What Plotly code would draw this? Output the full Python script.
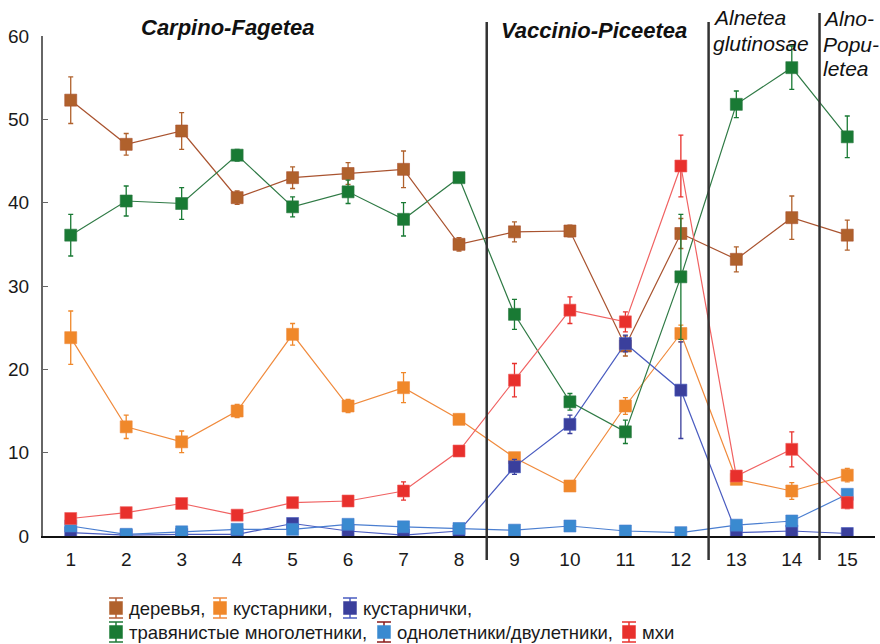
import plotly.graph_objects as go

# Plot numbers 1..15
sites = list(range(1, 16))
tick_text = [str(s) for s in sites]

# Mean share of each life-form group (%) with error half-widths
derevya = [52.3, 47.0, 48.6, 40.6, 43.0, 43.5, 44.0, 35.0, 36.5, 36.6, 22.8, 36.3, 33.2, 38.2, 36.1]
derevya_err = [2.8, 1.3, 2.2, 0.8, 1.3, 1.3, 2.2, 0.8, 1.2, 0.7, 1.2, 1.8, 1.5, 2.6, 1.8]

kustarniki = [23.8, 13.1, 11.3, 15.0, 24.2, 15.6, 17.8, 14.0, 9.4, 6.0, 15.6, 24.3, 6.8, 5.4, 7.3]
kustarniki_err = [3.2, 1.4, 1.3, 0.8, 1.3, 0.8, 1.8, 0.6, 0.6, 0.6, 1.0, 1.0, 0.6, 1.0, 0.8]

kustarnichki = [0.4, 0.1, 0.2, 0.2, 1.5, 0.6, 0.1, 0.6, 8.3, 13.4, 23.1, 17.5, 0.4, 0.6, 0.3]
kustarnichki_err = [0.2, 0.1, 0.1, 0.1, 0.3, 0.2, 0.1, 0.2, 0.9, 1.1, 1.0, 5.8, 0.2, 0.3, 0.2]

travy = [36.1, 40.2, 39.9, 45.7, 39.5, 41.3, 38.0, 43.0, 26.6, 16.1, 12.5, 31.1, 51.8, 56.2, 47.9]
travy_err = [2.5, 1.8, 1.9, 0.7, 1.2, 1.4, 2.0, 0.5, 1.8, 1.0, 1.4, 7.5, 1.6, 2.6, 2.5]

odnoletniki = [1.2, 0.2, 0.5, 0.8, 0.8, 1.4, 1.1, 0.9, 0.7, 1.2, 0.6, 0.4, 1.3, 1.8, 5.0]
odnoletniki_err = [0.2, 0.1, 0.1, 0.2, 0.2, 0.2, 0.2, 0.2, 0.2, 0.2, 0.1, 0.1, 0.2, 0.3, 0.5]

mhi = [2.1, 2.8, 3.9, 2.5, 4.0, 4.2, 5.4, 10.2, 18.7, 27.1, 25.7, 44.4, 7.2, 10.4, 4.0]
mhi_err = [0.4, 0.4, 0.4, 0.4, 0.4, 0.4, 1.1, 0.5, 2.0, 1.6, 1.2, 3.7, 0.6, 2.1, 0.7]

# Vegetation class boundaries (between plots)
boundaries = [8.5, 12.5, 14.5]

FONT = "Liberation Sans, Arial, sans-serif"

series = [
    ("деревья,", derevya, derevya_err, "#b0612c", "#a9532f", "#b5603a"),
    ("кустарники,", kustarniki, kustarniki_err, "#f0882a", "#f08a3c", "#f08a3c"),
    ("кустарнички,", kustarnichki, kustarnichki_err, "#3a3f9c", "#4a5cc0", "#4a5cc0"),
    ("травянистые многолетники,", travy, travy_err, "#197a34", "#2f7a45", "#1f7a38"),
    ("однолетники/двулетники,", odnoletniki, odnoletniki_err, "#3a8ad0", "#4a7ed0", "#8a1a1a"),
    ("мхи", mhi, mhi_err, "#e8302c", "#f06262", "#e8302c"),
]

fig = go.Figure()
for name, vals, errs, mcol, lcol, _ in series:
    fig.add_trace(go.Scatter(
        x=sites, y=vals, name=name, mode="lines+markers",
        line=dict(color=lcol, width=1.2),
        marker=dict(symbol="square", size=12, color=mcol,
                    line=dict(color=lcol, width=0.6)),
        error_y=dict(type="data", array=errs, visible=True,
                     color=mcol, thickness=1.3, width=2.5),
        showlegend=False,
    ))

# Plot area geometry (pixels) for paper-coordinate conversions
W, H = 880, 644
L, R, T, B = 43, 5, 36, 108
pw, ph = W - L - R, H - T - B


def px(x):
    return (x - L) / pw


def py(y):
    return (H - B - y) / ph


shapes = []
for i, b in enumerate(boundaries):
    top = 13 if i == 2 else 22
    shapes.append(dict(type="line", xref="x", yref="paper", x0=b, x1=b,
                       y0=py(top), y1=py(560),
                       line=dict(color="#333333", width=2.5)))

annotations = [
    dict(text="<b><i>Carpino-Fagetea</i></b>", x=px(228), y=py(28),
         xanchor="center", yanchor="middle", font=dict(size=22)),
    dict(text="<b><i>Vaccinio-Piceetea</i></b>", x=px(594), y=py(31),
         xanchor="center", yanchor="middle", font=dict(size=22)),
    dict(text="<i>Alnetea</i>", x=px(711), y=py(18),
         xanchor="left", yanchor="middle", font=dict(size=21)),
    dict(text="<i>glutinosae</i>", x=px(711), y=py(43),
         xanchor="left", yanchor="middle", font=dict(size=21)),
    dict(text="<i>Alno-</i>", x=px(821), y=py(19),
         xanchor="left", yanchor="middle", font=dict(size=21)),
    dict(text="<i>Popu-</i>", x=px(821), y=py(44),
         xanchor="left", yanchor="middle", font=dict(size=21)),
    dict(text="<i>letea</i>", x=px(821), y=py(69),
         xanchor="left", yanchor="middle", font=dict(size=21)),
]

# Legend laid out in two rows
legend_pos = [(116, 608), (220, 608), (350, 608), (116, 632), (384, 632), (629, 632)]
for (name, _, _, mcol, _, ecol), (cx, cy) in zip(series, legend_pos):
    shapes.append(dict(type="line", xref="paper", yref="paper",
                       x0=px(cx), x1=px(cx), y0=py(cy - 10), y1=py(cy + 10),
                       line=dict(color=ecol, width=1.5)))
    for dy in (-10, 10):
        shapes.append(dict(type="line", xref="paper", yref="paper",
                           x0=px(cx - 7), x1=px(cx + 7), y0=py(cy + dy), y1=py(cy + dy),
                           line=dict(color=ecol, width=1.5)))
    shapes.append(dict(type="rect", xref="paper", yref="paper",
                       x0=px(cx - 6.5), x1=px(cx + 6.5), y0=py(cy - 6.5), y1=py(cy + 6.5),
                       fillcolor=mcol, line=dict(color=mcol, width=0.5)))
    annotations.append(dict(text=name, x=px(cx + 11), y=py(cy), xanchor="left",
                            yanchor="middle", font=dict(size=18.5, color="#1a1a1a")))

for a in annotations:
    a.update(xref="paper", yref="paper", showarrow=False)
    a["font"].setdefault("color", "#111111")
    a["font"]["family"] = FONT

fig.update_layout(
    width=W, height=H,
    margin=dict(l=L, r=R, t=T, b=B, pad=0),
    paper_bgcolor="white", plot_bgcolor="white",
    font=dict(family=FONT, size=18, color="#1a1a1a"),
    shapes=shapes, annotations=annotations,
    showlegend=False,
    xaxis=dict(range=[0.5, 15.5], tickmode="array", tickvals=sites, ticktext=tick_text,
               showgrid=False, zeroline=False, showline=True, linecolor="#111111",
               linewidth=2, ticks="", ticklabelstandoff=5,
               tickfont=dict(size=19, color="#1a1a1a", family=FONT)),
    yaxis=dict(range=[0, 60], tickvals=[0, 10, 20, 30, 40, 50, 60],
               showgrid=False, zeroline=False, showline=True, linecolor="#666666",
               linewidth=2, ticks="inside", ticklen=5, tickcolor="#666666",
               ticklabelstandoff=8,
               tickfont=dict(size=19, color="#1a1a1a", family=FONT)),
)

fig.write_html("out.html")
